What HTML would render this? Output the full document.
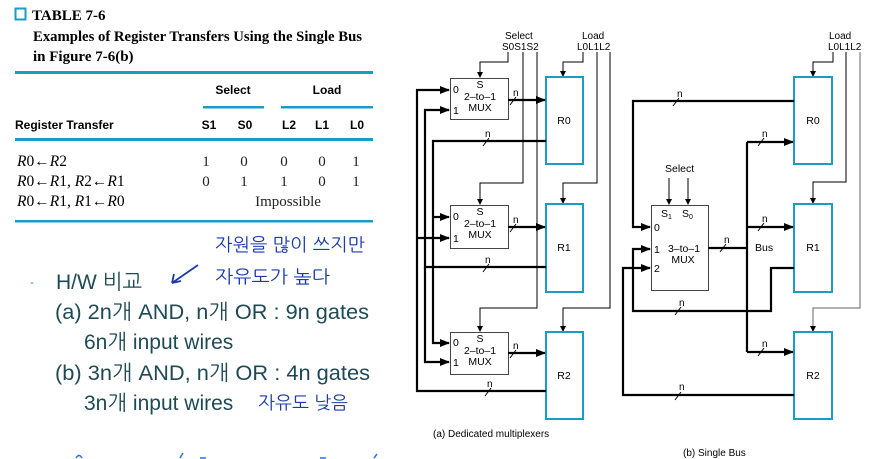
<!DOCTYPE html>
<html><head><meta charset="utf-8"><style>
html,body{margin:0;padding:0;background:#fff;}
body{width:873px;height:459px;overflow:hidden;position:relative;}
svg{position:absolute;left:0;top:0;}
.ser{font-family:"Liberation Serif",serif;}
.sans{font-family:"Liberation Sans",sans-serif;}
.ko{font-family:"Liberation Sans","NanumGothic","Noto Sans CJK KR",sans-serif;}
</style></head><body>
<svg width="873" height="459" viewBox="0 0 873 459" xmlns="http://www.w3.org/2000/svg">
<defs>
<marker id="a" markerWidth="10" markerHeight="8" refX="9" refY="4" orient="auto" markerUnits="userSpaceOnUse"><path d="M0,0 L10,4 L0,8 Z" fill="#000"/></marker>
<marker id="s" markerWidth="6" markerHeight="6" refX="5" refY="3" orient="auto" markerUnits="userSpaceOnUse"><path d="M0,0 L6,3 L0,6 Z" fill="#000"/></marker>
</defs>
<!-- Table -->
<rect x="15.5" y="8.5" width="10" height="11" fill="none" stroke="#1a9cc4" stroke-width="2"/>
<text x="32" y="20" class="ser" font-size="15" font-weight="bold">TABLE 7-6</text>
<text x="33" y="41" class="ser" font-size="15" font-weight="bold" textLength="329" lengthAdjust="spacingAndGlyphs">Examples of Register Transfers Using the Single Bus</text>
<text x="33" y="61" class="ser" font-size="15" font-weight="bold">in Figure 7-6(b)</text>
<rect x="15" y="71" width="358" height="3" fill="#1a9cc4"/>
<text x="233" y="94" class="sans" font-size="12" font-weight="bold" text-anchor="middle">Select</text>
<text x="327" y="94" class="sans" font-size="12" font-weight="bold" text-anchor="middle">Load</text>
<rect x="203" y="106" width="61" height="2.5" fill="#1a9cc4"/>
<rect x="281" y="106" width="92" height="2.5" fill="#1a9cc4"/>
<text x="15" y="129" class="sans" font-size="12" font-weight="bold">Register Transfer</text>
<g class="sans" font-size="12" font-weight="bold" text-anchor="middle">
<text x="209" y="129">S1</text><text x="245" y="129">S0</text><text x="289" y="129">L2</text><text x="322" y="129">L1</text><text x="357" y="129">L0</text></g>
<rect x="15" y="138" width="358" height="3" fill="#1a9cc4"/>
<g class="ser" font-size="15.5">
<text x="17" y="166"><tspan font-style="italic">R</tspan>0←<tspan font-style="italic">R</tspan>2</text>
<text x="17" y="186"><tspan font-style="italic">R</tspan>0←<tspan font-style="italic">R</tspan>1, <tspan font-style="italic">R</tspan>2←<tspan font-style="italic">R</tspan>1</text>
<text x="17" y="206"><tspan font-style="italic">R</tspan>0←<tspan font-style="italic">R</tspan>1, <tspan font-style="italic">R</tspan>1←<tspan font-style="italic">R</tspan>0</text>
</g>
<g class="ser" font-size="15" text-anchor="middle" fill="#222">
<text x="206" y="166">1</text><text x="244" y="166">0</text><text x="284" y="166">0</text><text x="322" y="166">0</text><text x="356" y="166">1</text>
<text x="206" y="186">0</text><text x="244" y="186">1</text><text x="284" y="186">1</text><text x="322" y="186">0</text><text x="356" y="186">1</text>
<text x="288" y="206">Impossible</text></g>
<rect x="15" y="220" width="358" height="2.5" fill="#1a9cc4"/>
<!-- notes -->
<g class="ko" font-size="21" fill="#1e4a55">
<text x="30" y="286" font-size="12" fill="#1a9cc4">-</text>
<text x="56" y="289">H/W 비교</text>
<text x="55" y="319" textLength="314" lengthAdjust="spacingAndGlyphs">(a) 2n개 AND, n개 OR : 9n gates</text>
<text x="84" y="349">6n개 input wires</text>
<text x="55" y="380" textLength="315" lengthAdjust="spacingAndGlyphs">(b) 3n개 AND, n개 OR : 4n gates</text>
<text x="84" y="410">3n개 input wires</text>
</g>
<g class="ko" font-size="18" fill="#1a3aa8">
<text x="215" y="251" textLength="150" lengthAdjust="spacingAndGlyphs">자원을 많이 쓰지만</text>
<text x="215" y="283" textLength="115" lengthAdjust="spacingAndGlyphs">자유도가 높다</text>
<text x="258" y="409" textLength="90" lengthAdjust="spacingAndGlyphs">자유도 낮음</text>
</g>
<path d="M198,265 L172,283 M172,283 L174,274 M172,283 L181,281" stroke="#1a3aa8" stroke-width="1.8" fill="none"/>
<path d="M76,458 q3,-5 6,0 M180,458 l3,-5 M200,458 h6 M320,458 h6 M374,458 l3,-4" stroke="#2a6cf0" stroke-width="1.5" fill="none"/>

<!-- (a) -->
<g class="sans" font-size="10" fill="#000">
<text x="505" y="39">Select</text><text x="502" y="50">S0S1S2</text>
<text x="582" y="39">Load</text><text x="577" y="50">L0L1L2</text>
</g>
<g stroke="#000" stroke-width="1" fill="none">
<path d="M508,52 V62 H480 V77" marker-end="url(#s)"/>
<path d="M523,52 V183 H480 V204" marker-end="url(#s)"/>
<path d="M537,52 V308 H480 V331" marker-end="url(#s)"/>
<path d="M583,52 V62 H563 V76" marker-end="url(#s)"/>
<path d="M597,52 V183 H563 V203" marker-end="url(#s)"/>
<path d="M610,52 V308 H563 V331" marker-end="url(#s)"/>
</g>
<g fill="#fff" stroke="#444" stroke-width="1">
<rect x="450.5" y="78.5" width="58" height="41"/>
<rect x="450.5" y="205.5" width="58" height="43"/>
<rect x="450.5" y="332.5" width="58" height="42"/>
</g>
<g fill="none" stroke="#1a9cc4" stroke-width="2">
<rect x="546" y="77" width="37" height="87"/>
<rect x="546" y="204" width="37" height="88"/>
<rect x="546" y="332" width="37" height="87"/>
</g>
<g class="sans" font-size="10.5" fill="#000">
<g text-anchor="middle"><text x="480" y="88">S</text><text x="480" y="100">2–to–1</text><text x="480" y="111">MUX</text>
<text x="480" y="215">S</text><text x="480" y="227">2–to–1</text><text x="480" y="238">MUX</text>
<text x="480" y="342">S</text><text x="480" y="354">2–to–1</text><text x="480" y="365">MUX</text>
<text x="564" y="124">R0</text><text x="564" y="251">R1</text><text x="564" y="379">R2</text></g>
<text x="453" y="93">0</text><text x="453" y="114">1</text>
<text x="453" y="220">0</text><text x="453" y="242">1</text>
<text x="453" y="346">0</text><text x="453" y="366">1</text>
</g>
<g stroke="#000" stroke-width="2.2" fill="none">
<path d="M508,100 H545" marker-end="url(#a)"/>
<path d="M508,227 H545" marker-end="url(#a)"/>
<path d="M508,353 H545" marker-end="url(#a)"/>
<path d="M546,141 H433 V343 H449" marker-end="url(#a)"/>
<path d="M433,217 H449" marker-end="url(#a)"/>
<path d="M546,267 H425 V110 H449" marker-end="url(#a)"/>
<path d="M425,267 V362 H449" marker-end="url(#a)"/>
<path d="M546,391 H417 V90 H449" marker-end="url(#a)"/>
<path d="M417,238 H449" marker-end="url(#a)"/>
</g>
<g stroke="#000" stroke-width="1">
<path d="M510,105 l6,-8 M510,232 l6,-8 M510,358 l6,-8 M483,146 l6,-8 M483,272 l6,-8 M485,396 l6,-8"/>
</g>
<g class="sans" font-size="10"><text x="513" y="96">n</text><text x="513" y="223">n</text><text x="513" y="349">n</text><text x="485" y="137">n</text><text x="485" y="263">n</text><text x="487" y="387">n</text></g>
<text x="433" y="437" class="sans" font-size="10">(a) Dedicated multiplexers</text>

<!-- (b) -->
<g class="sans" font-size="10"><text x="829" y="39">Load</text><text x="828" y="50">L0L1L2</text></g>
<g stroke="#000" stroke-width="1" fill="none">
<path d="M833,52 V62 H813 V76" marker-end="url(#s)"/>
<path d="M846,52 V182 H813 V203" marker-end="url(#s)"/>
<path d="M860,52 V308 H813 V331" stroke="#666" marker-end="url(#s)"/>
<path d="M669,178 V204" marker-end="url(#s)"/>
<path d="M688,178 V204" marker-end="url(#s)"/>
</g>
<rect x="651.5" y="205.5" width="57" height="85" fill="#fff" stroke="#444"/>
<g fill="none" stroke="#1a9cc4" stroke-width="2">
<rect x="794" y="77" width="38" height="87"/>
<rect x="794" y="204" width="38" height="88"/>
<rect x="794" y="332" width="38" height="87"/>
</g>
<g class="sans" font-size="10.5" fill="#000">
<text x="665" y="172">Select</text>
<text x="661" y="217">S<tspan font-size="7" dy="2">1</tspan></text><text x="682" y="217">S<tspan font-size="7" dy="2">0</tspan></text>
<text x="654" y="231">0</text><text x="654" y="253">1</text><text x="654" y="272">2</text>
<text x="684" y="252" text-anchor="middle">3–to–1</text><text x="683" y="263" text-anchor="middle">MUX</text>
<text x="755" y="251">Bus</text>
<text x="813" y="124" text-anchor="middle">R0</text><text x="813" y="251" text-anchor="middle">R1</text><text x="813" y="379" text-anchor="middle">R2</text>
</g>
<g stroke="#000" stroke-width="2.2" fill="none">
<path d="M708,248 H747"/>
<path d="M747,142 V352"/>
<path d="M747,142 H793" marker-end="url(#a)"/>
<path d="M747,227 H793" marker-end="url(#a)"/>
<path d="M747,352 H793" marker-end="url(#a)"/>
<path d="M794,101 H633 V227 H650" marker-end="url(#a)"/>
<path d="M794,268 H771 V311 H633 V249 H650" marker-end="url(#a)"/>
<path d="M794,395 H623 V268 H650" marker-end="url(#a)"/>
</g>
<g stroke="#000" stroke-width="1">
<path d="M720,252 l6,-8 M758,146 l6,-8 M758,231 l6,-8 M758,356 l6,-8 M673,106 l6,-8 M675,315 l6,-8 M675,400 l6,-8"/>
</g>
<g class="sans" font-size="10"><text x="724" y="243">n</text><text x="762" y="137">n</text><text x="762" y="222">n</text><text x="762" y="347">n</text><text x="677" y="97">n</text><text x="679" y="306">n</text><text x="679" y="390">n</text></g>
<text x="683" y="456" class="sans" font-size="10">(b) Single Bus</text>
</svg>
</body></html>
